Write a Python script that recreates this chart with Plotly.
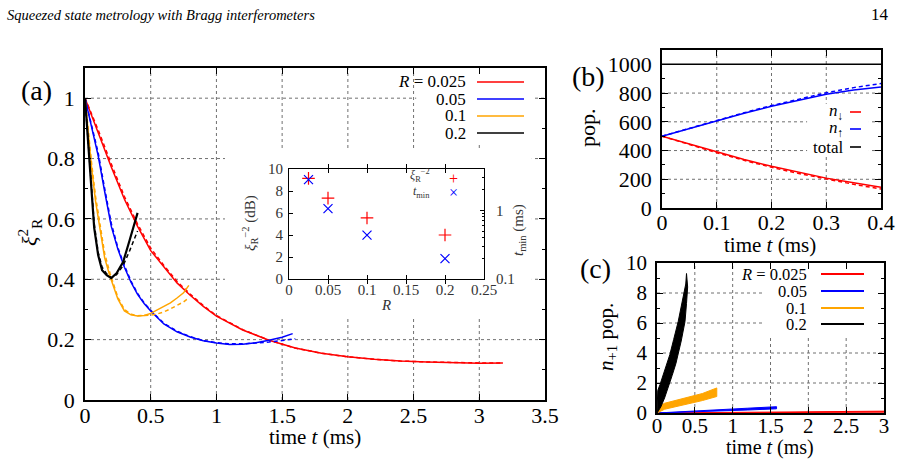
import plotly.graph_objects as go

W, H = 901, 463
def px(x): return x / W
def py(y): return 1 - y / H

FONT = "Liberation Serif, DejaVu Serif, Times New Roman, serif"
RED, BLUE, ORANGE, BLACK = "#ff0000", "#0000ff", "#ffa500", "#000000"

# ---------------- panel (a): squeezing parameter vs time ----------------
red_t = [0, 0.1, 0.2, 0.3, 0.4, 0.5, 0.6, 0.7, 0.8, 0.9, 1.0, 1.2, 1.4, 1.6, 1.8, 2.0, 2.2, 2.4, 2.6, 2.8, 3.0, 3.18]
red_v = [1.0, 0.885, 0.772, 0.665, 0.575, 0.495, 0.44, 0.388, 0.347, 0.31, 0.278, 0.232, 0.198, 0.172, 0.155, 0.143, 0.135, 0.129, 0.126, 0.123, 0.122, 0.123]
red_th_v = [1.0, 0.895, 0.782, 0.674, 0.583, 0.503, 0.446, 0.393, 0.351, 0.313, 0.28, 0.233, 0.198, 0.172, 0.155, 0.143, 0.135, 0.129, 0.126, 0.124, 0.123, 0.123]

blue_t = [0, 0.05, 0.1, 0.15, 0.2, 0.25, 0.3, 0.35, 0.4, 0.45, 0.5, 0.6, 0.7, 0.8, 0.9, 1.0, 1.1, 1.2, 1.3, 1.4, 1.5, 1.58]
blue_v = [1.0, 0.9, 0.81, 0.69, 0.575, 0.5, 0.44, 0.39, 0.35, 0.32, 0.295, 0.252, 0.226, 0.209, 0.196, 0.189, 0.184, 0.185, 0.19, 0.198, 0.208, 0.22]
blue_th_t = [0, 0.05, 0.1, 0.15, 0.2, 0.25, 0.3, 0.35, 0.4, 0.45, 0.5, 0.6, 0.7, 0.8, 0.9, 1.0, 1.1, 1.2, 1.3, 1.4, 1.5, 1.6]
blue_th_v = [1.0, 0.91, 0.82, 0.70, 0.585, 0.505, 0.445, 0.394, 0.353, 0.322, 0.297, 0.254, 0.228, 0.21, 0.197, 0.19, 0.186, 0.186, 0.188, 0.192, 0.197, 0.203]

orange_t = [0, 0.02, 0.05, 0.08, 0.11, 0.15, 0.19, 0.22, 0.25, 0.3, 0.35, 0.4, 0.45, 0.5, 0.55, 0.6, 0.65, 0.7, 0.75, 0.79]
orange_v = [1.0, 0.9, 0.77, 0.66, 0.575, 0.47, 0.41, 0.37, 0.335, 0.295, 0.282, 0.278, 0.28, 0.287, 0.298, 0.31, 0.322, 0.338, 0.355, 0.38]
orange_th_v = [1.0, 0.91, 0.785, 0.675, 0.59, 0.485, 0.42, 0.378, 0.34, 0.3, 0.284, 0.279, 0.279, 0.281, 0.285, 0.292, 0.302, 0.313, 0.325, 0.338]

black_t = [0, 0.02, 0.04, 0.07, 0.1, 0.13, 0.165, 0.2, 0.24, 0.29, 0.34, 0.38, 0.4]
black_v = [1.0, 0.87, 0.73, 0.57, 0.48, 0.43, 0.414, 0.404, 0.42, 0.457, 0.53, 0.596, 0.62]
black_th_v = [1.0, 0.88, 0.745, 0.585, 0.49, 0.44, 0.418, 0.405, 0.415, 0.445, 0.495, 0.54, 0.56]

legend_R = ["<i>R</i> = 0.025", "0.05", "0.1", "0.2"]

a_xrange, a_yrange = [0, 3.5], [0, 1.1]
a_xticks = [0, 0.5, 1, 1.5, 2, 2.5, 3, 3.5]
a_yticks = [0, 0.2, 0.4, 0.6, 0.8, 1.0]

# ---------------- inset ----------------
ins_R = [0.025, 0.05, 0.1, 0.2]
ins_xi_db = [9.15, 7.35, 5.55, 4.0]
ins_tmin = [2.8, 1.06, 0.435, 0.198]

# ---------------- panel (b): populations ----------------
b_t = [0, 0.05, 0.1, 0.15, 0.2, 0.25, 0.3, 0.35, 0.4]
n_down = [500, 445, 390, 338, 290, 248, 208, 175, 145]
n_down_th = [500, 442, 385, 332, 283, 240, 200, 165, 132]
n_up = [500, 555, 608, 660, 708, 752, 792, 822, 843]
n_up_th = [500, 556, 610, 663, 713, 760, 802, 838, 866]
n_total = [1000, 1000, 1000, 1000, 1000, 1000, 1000, 1000, 1000]
b_xrange, b_yrange = [0, 0.4], [0, 1100]
b_xticks = [0, 0.1, 0.2, 0.3, 0.4]
b_yticks = [0, 200, 400, 600, 800, 1000]

# ---------------- panel (c): n_{+1} population (envelopes of fast oscillation) ----------------
c_red_up_t = [0, 1.0, 2.0, 3.18]
c_red_up_v = [0, 0.05, 0.09, 0.13]
c_red_lo_t = [0, 1.0, 2.0, 3.18]
c_red_lo_v = [0, 0.01, 0.03, 0.06]
c_blue_up_t = [0, 0.4, 0.8, 1.2, 1.58]
c_blue_up_v = [0, 0.12, 0.22, 0.32, 0.42]
c_blue_lo_t = [0, 0.4, 0.8, 1.2, 1.58]
c_blue_lo_v = [0, 0.05, 0.12, 0.2, 0.28]
c_or_up_t = [0, 0.03, 0.1, 0.2, 0.4, 0.6, 0.79]
c_or_up_v = [0, 0.45, 0.65, 0.78, 1.02, 1.3, 1.67]
c_or_lo_t = [0, 0.1, 0.2, 0.4, 0.6, 0.79]
c_or_lo_v = [0, 0.25, 0.38, 0.6, 0.83, 1.1]
c_blk_up_t = [0, 0.01, 0.04, 0.1, 0.17, 0.22, 0.28, 0.34, 0.38, 0.39]
c_blk_up_v = [0, 1.5, 1.9, 2.8, 3.9, 4.9, 6.1, 7.6, 8.6, 9.3]
c_blk_lo_t = [0, 0.05, 0.1, 0.15, 0.2, 0.25, 0.28, 0.32, 0.37, 0.39, 0.405]
c_blk_lo_v = [0, 0.4, 1.0, 1.7, 2.5, 3.3, 3.9, 4.8, 6.1, 7.3, 8.4]
c_xrange, c_yrange = [0, 3], [0, 10]
c_xticks = [0, 0.5, 1, 1.5, 2, 2.5, 3]
c_yticks = [0, 2, 4, 6, 8, 10]

fig = go.Figure()

def line(x, y, color, xa, ya, dash=None, width=1.5):
    fig.add_trace(go.Scatter(x=x, y=y, mode="lines",
                             line=dict(color=color, width=width, dash=dash),
                             xaxis=xa, yaxis=ya, showlegend=False, hoverinfo="skip"))

def band(ut, uv, lt, lv, color, xa, ya):
    fig.add_trace(go.Scatter(x=list(ut) + list(lt)[::-1], y=list(uv) + list(lv)[::-1],
                             mode="lines", fill="toself", fillcolor=color,
                             line=dict(color=color, width=1),
                             xaxis=xa, yaxis=ya, showlegend=False, hoverinfo="skip"))

DASH = "4px,3px"
# (a)
line(red_t, red_th_v, RED, "x", "y", DASH)
line(red_t, red_v, RED, "x", "y")
line(blue_th_t, blue_th_v, BLUE, "x", "y", DASH)
line(blue_t, blue_v, BLUE, "x", "y")
line(orange_t, orange_th_v, ORANGE, "x", "y", DASH)
line(orange_t, orange_v, ORANGE, "x", "y")
line(black_t, black_th_v, BLACK, "x", "y", DASH)
line(black_t, black_v, BLACK, "x", "y", width=2.2)

# inset
fig.add_trace(go.Scatter(x=ins_R, y=ins_xi_db, mode="markers",
                         marker=dict(symbol="cross-thin", size=9, line=dict(color=RED, width=1.2)),
                         xaxis="x2", yaxis="y2", showlegend=False, hoverinfo="skip"))
fig.add_trace(go.Scatter(x=ins_R, y=ins_tmin, mode="markers",
                         marker=dict(symbol="x-thin", size=9, line=dict(color=BLUE, width=1.2)),
                         xaxis="x2", yaxis="y3", showlegend=False, hoverinfo="skip"))

# (b)
line(b_t, n_total, BLACK, "x3", "y4")
line(b_t, n_down_th, RED, "x3", "y4", DASH)
line(b_t, n_down, RED, "x3", "y4")
line(b_t, n_up_th, BLUE, "x3", "y4", DASH)
line(b_t, n_up, BLUE, "x3", "y4")

# (c)
band(c_red_up_t, c_red_up_v, c_red_lo_t, c_red_lo_v, RED, "x4", "y5")
band(c_blue_up_t, c_blue_up_v, c_blue_lo_t, c_blue_lo_v, BLUE, "x4", "y5")
band(c_or_up_t, c_or_up_v, c_or_lo_t, c_or_lo_v, ORANGE, "x4", "y5")
band(c_blk_up_t, c_blk_up_v, c_blk_lo_t, c_blk_lo_v, BLACK, "x4", "y5")

def ax(**kw):
    d = dict(showline=True, linecolor="black", linewidth=1.5, mirror="allticks",
             ticks="inside", ticklen=6, tickcolor="black", tickwidth=1,
             showgrid=False, zeroline=False, automargin=False,
             tickfont=dict(family=FONT, size=22, color="black"))
    d.update(kw)
    return d

minor = lambda dt: dict(ticks="inside", dtick=dt, ticklen=3, tickcolor="black", showgrid=False)
ifont = dict(family=FONT, size=15, color="#333")
cfont = dict(family=FONT, size=21, color="black")

fig.update_layout(
    template="none",
    width=W, height=H, margin=dict(l=0, r=0, t=0, b=0, autoexpand=False),
    paper_bgcolor="white", plot_bgcolor="white", showlegend=False,
    xaxis=ax(domain=[px(85), px(545)], range=a_xrange, tickmode="array", tickvals=a_xticks,
             anchor="y", ticklabelstandoff=-5),
    yaxis=ax(domain=[py(400), py(68)], range=a_yrange, tickmode="array", tickvals=a_yticks, anchor="x",
             minor=minor(0.1), ticklabelstandoff=4),
    xaxis2=ax(domain=[px(289), px(484)], range=[0, 0.25], dtick=0.05, tick0=0, anchor="y2",
              tickfont=ifont, ticklen=4, linewidth=1.2, ticklabelstandoff=-3),
    yaxis2=ax(domain=[py(279), py(169)], range=[0, 10], dtick=2, tick0=0, anchor="x2",
              mirror=False, tickfont=ifont, ticklen=4, linewidth=1.2, ticklabelstandoff=2),
    yaxis3=ax(overlaying="y2", side="right", type="log", range=[-1, 0.602], anchor="x2",
              mirror=False, tickvals=[0.1, 1], ticktext=["0.1", "1"],
              tickfont=ifont, ticklen=4, linewidth=1.2, ticklabelstandoff=8,
              minor=dict(tickmode="array", tickvals=[0.2, 0.3, 0.4, 0.5, 0.6, 0.7, 0.8, 0.9, 2, 3, 4],
                         ticks="inside", ticklen=2, tickcolor="black", showgrid=False)),
    xaxis3=ax(domain=[px(662), px(881)], range=b_xrange, tickmode="array", tickvals=b_xticks,
              anchor="y4", ticklabelstandoff=-6),
    yaxis4=ax(domain=[py(208), py(50)], range=b_yrange, tickmode="array", tickvals=b_yticks, anchor="x3",
              minor=minor(100), ticklabelstandoff=4),
    xaxis4=ax(domain=[px(657), px(884)], range=c_xrange, tickmode="array", tickvals=c_xticks,
              anchor="y5", ticklabelstandoff=-7, tickfont=cfont),
    yaxis5=ax(domain=[py(413), py(263)], range=c_yrange, tickmode="array", tickvals=c_yticks, anchor="x4",
              minor=minor(1), ticklabelstandoff=4, tickfont=cfont),
)

# dotted grid lines (drawn between grid layer and traces)
GRID = dict(color="#707070", width=1, dash="dot")
def grid(xr, yr, xrng, yrng, xt, yt):
    for v in xt:
        fig.add_shape(type="line", xref=xr, yref=yr, x0=v, x1=v, y0=yrng[0], y1=yrng[1],
                      line=GRID, layer="between")
    for v in yt:
        fig.add_shape(type="line", xref=xr, yref=yr, x0=xrng[0], x1=xrng[1], y0=v, y1=v,
                      line=GRID, layer="between")
grid("x", "y", a_xrange, a_yrange, a_xticks[1:-1], a_yticks[1:])
grid("x3", "y4", b_xrange, b_yrange, b_xticks[1:-1], b_yticks[1:-1])
grid("x4", "y5", c_xrange, c_yrange, c_xticks[1:-1], c_yticks[1:-1])

# opaque key / inset backgrounds hiding the grid
def white(x0, x1, y0, y1, xr, yr):
    fig.add_shape(type="rect", xref=xr, yref=yr, x0=x0, x1=x1, y0=y0, y1=y1,
                  fillcolor="white", line=dict(width=0), layer="between")
white(2.52, 3.42, 0.85, 1.1, "x", "y")
white(1.065, 3.40, 0.272, 0.828, "x", "y")
white(0.265, 0.378, 365, 725, "x3", "y4")
white(1.39, 2.98, 5.2, 9.9, "x4", "y5")

def txt(x, y, s, size, xanchor="center", angle=0, color="black"):
    fig.add_annotation(x=px(x), y=py(y), xref="paper", yref="paper", text=s, showarrow=False,
                       xanchor=xanchor, yanchor="middle", textangle=angle,
                       font=dict(family=FONT, size=size, color=color))

def seg(x0, x1, y, color, width=1.6):
    fig.add_shape(type="line", xref="paper", yref="paper", x0=px(x0), x1=px(x1), y0=py(y), y1=py(y),
                  line=dict(color=color, width=width))

# header
txt(5, 15, "<i>Squeezed state metrology with Bragg interferometers</i>", 14.5, "left")
txt(891, 15, "14", 17, "right")

# (a) labels
txt(36, 90, "(a)", 28)
txt(30, 232, "<i>ξ</i><sup>2</sup><sub>R</sub>", 22, angle=-90)
txt(315, 437, "time <i>t</i> (ms)", 21)
for i, (lab, col) in enumerate(zip(legend_R, [RED, BLUE, ORANGE, BLACK])):
    yy = [82, 99, 116, 133][i]
    txt(468, yy, lab, 17, "right")
    seg(477, 524, yy, col)

# inset labels
txt(250, 223, "<i>ξ</i><sub>R</sub><sup>−2</sup> (dB)", 15, angle=-90, color="#333")
txt(386, 305, "<i>R</i>", 15, color="#333")
txt(519, 230, "<i>t</i><sub>min</sub> (ms)", 15, angle=-90, color="#333")
txt(432, 175, "<i>ξ</i><sub>R</sub><sup>−2</sup>", 12, "right", color="#333")
txt(432, 192, "<i>t</i><sub>min</sub>", 12, "right", color="#333")
txt(453, 178, "+", 16, color=RED)
txt(453, 192, "×", 16, color=BLUE)

# (b) labels
txt(588, 77, "(b)", 28)
txt(587, 128, "pop.", 22, angle=-90)
txt(770, 245, "time <i>t</i> (ms)", 21)
for yy, lab, col in [(112, "<i>n</i><sub>↓</sub>", RED), (129, "<i>n</i><sub>↑</sub>", BLUE), (147, "total", BLACK)]:
    txt(845, yy, lab, 17, "right")
    seg(850, 861, yy, col)

# (c) labels
txt(595, 268, "(c)", 28)
txt(607, 337, "<i>n</i><sub>+1</sub> pop.", 21, angle=-90)
txt(770, 447, "time <i>t</i> (ms)", 20)
for i, (lab, col) in enumerate(zip(legend_R, [RED, BLUE, ORANGE, BLACK])):
    yy = [274, 291, 308, 324][i]
    txt(809, yy, lab, 16.5, "right")
    seg(821, 864, yy, col, 2)

fig.write_html("out.html")
